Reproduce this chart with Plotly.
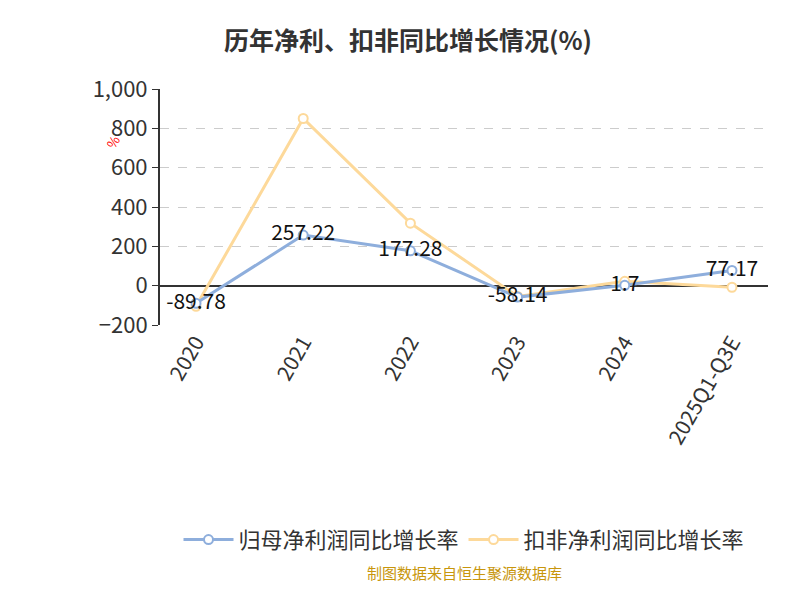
import plotly.graph_objects as go

years = ["2020", "2021", "2022", "2023", "2024", "2025Q1-Q3E"]
net_profit_growth = [-89.78, 257.22, 177.28, -58.14, 1.7, 77.17]
deducted_growth = [-105, 850, 318, -55, 22, -8]
net_labels = ["-89.78", "257.22", "177.28", "-58.14", "1.7", "77.17"]

font = "Noto Sans CJK SC"
fig = go.Figure()
fig.add_trace(go.Scatter(
    x=years, y=deducted_growth, name="扣非净利润同比增长率",
    mode="lines+markers",
    line=dict(color="#fdd99a", width=3),
    marker=dict(size=9, color="white", line=dict(color="#fdd99a", width=2)),
))
fig.add_trace(go.Scatter(
    x=years, y=net_profit_growth, name="归母净利润同比增长率",
    mode="lines+markers+text", text=net_labels, textposition="middle center",
    textfont=dict(size=21, color="#111"),
    line=dict(color="#8eaedc", width=3),
    marker=dict(size=9, color="white", line=dict(color="#8eaedc", width=2)),
))

fig.update_layout(
    width=800, height=600, plot_bgcolor="white", paper_bgcolor="white",
    font=dict(family=font, color="#333"),
    title=dict(text="<b>历年净利、扣非同比增长情况(%)</b>", x=0.5, y=0.96,
               xanchor="center", font=dict(size=25, color="#333")),
    margin=dict(l=152, r=40, t=81, b=283),
    showlegend=True,
    legend=dict(orientation="h", x=0.5, xanchor="center", y=-0.91, yanchor="middle",
                font=dict(size=22, color="#333"), traceorder="reversed", itemwidth=50),
    xaxis=dict(type="category", showline=False, ticks="", tickangle=-60,
               tickfont=dict(size=21, color="#333"), showgrid=False),
    yaxis=dict(range=[-200, 1000], dtick=200, tickformat=",", showline=True,
               linecolor="#333", linewidth=2, ticks="outside", ticklen=6, tickcolor="#333",
               tickfont=dict(size=22, color="#333"), gridcolor="#ccc", griddash="dash",
               zeroline=True, zerolinecolor="#333", zerolinewidth=2),
    annotations=[
        dict(text="%", xref="paper", yref="paper", x=-0.1, y=0.83, showarrow=False,
             textangle=-60, font=dict(size=13, color="red")),
        dict(text="制图数据来自恒生聚源数据库", xref="paper", yref="paper", x=0.5, y=-1.1,
             showarrow=False, font=dict(size=15, color="#c8960c")),
    ],
)
fig.write_html("out.html")
